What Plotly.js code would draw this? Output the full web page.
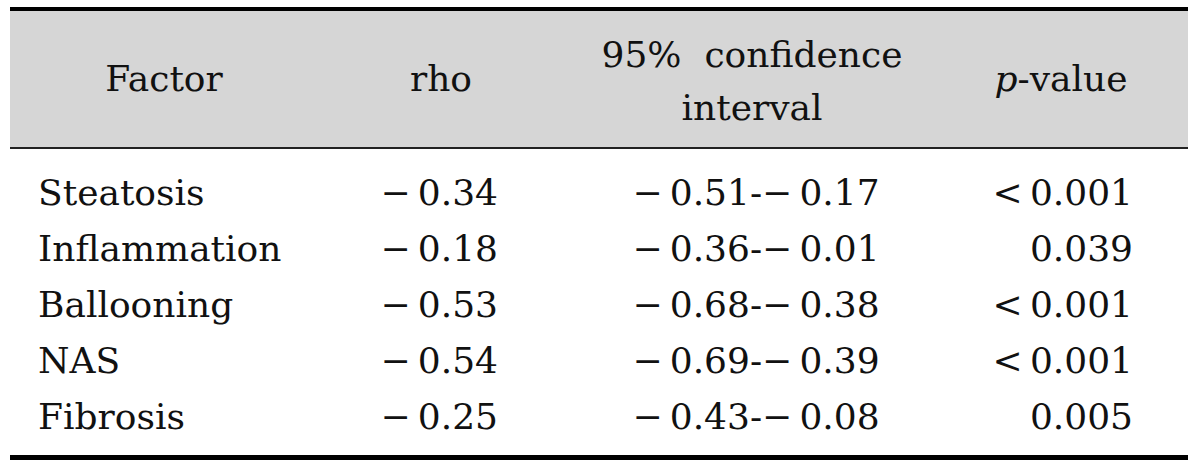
<!DOCTYPE html>
<html>
<head>
<meta charset="utf-8">
<script src="https://cdn.plot.ly/plotly-3.0.1.min.js"></script>
<style>
  html, body { margin: 0; padding: 0; background: #fff; }
  #tbl { width: 1200px; height: 468px; }
</style>
</head>
<body>
<div id="tbl"></div>
<script>
// table contents
var factors = ['Steatosis', 'Inflammation', 'Ballooning', 'NAS', 'Fibrosis'];
var rho = [-0.34, -0.18, -0.53, -0.54, -0.25];
var ciLow = [-0.51, -0.36, -0.68, -0.69, -0.43];
var ciHigh = [-0.17, -0.01, -0.38, -0.39, -0.08];
var pValues = ['<0.001', '0.039', '<0.001', '<0.001', '0.005'];

var headers = ['Factor', 'rho', '95%  confidence', 'interval', '<i>p</i>-value'];

// layout of the table (pixels)
var rowY0 = 196, rowStep = 56;
var font = { family: 'DejaVu Serif', size: 36, color: '#111' };

function fmt(v) {
    return (v < 0 ? '\u2212\u2009' : '') + Math.abs(v).toFixed(2);
}
function esc(s) {
    return s.replace(/</g, '&lt;\u2009');
}

var rowsY = factors.map(function (f, i) { return rowY0 + i * rowStep; });

function col(x, text, pos) {
    return {
        type: 'scatter',
        mode: 'text',
        x: text.map(function () { return x; }),
        y: rowsY.slice(0, text.length),
        text: text,
        textposition: pos,
        textfont: font,
        hoverinfo: 'skip',
        showlegend: false
    };
}

var headerTrace = {
    type: 'scatter',
    mode: 'text',
    x: [164, 441, 752, 752, 1061],
    y: [82, 82, 58, 111, 82],
    text: headers,
    textposition: 'middle center',
    textfont: font,
    hoverinfo: 'skip',
    showlegend: false
};

var data = [
    headerTrace,
    col(38, factors, 'middle right'),
    col(498, rho.map(fmt), 'middle left'),
    col(756, ciLow.map(function (v, i) { return fmt(v) + '-' + fmt(ciHigh[i]); }), 'middle center'),
    col(1133, pValues.map(esc), 'middle left')
];

var layout = {
    width: 1200,
    height: 468,
    margin: { l: 0, r: 0, t: 0, b: 0 },
    paper_bgcolor: '#fff',
    plot_bgcolor: '#fff',
    xaxis: { range: [0, 1200], visible: false, fixedrange: true },
    yaxis: { range: [468, 0], visible: false, fixedrange: true },
    shapes: [
        { type: 'rect', xref: 'x', yref: 'y', x0: 10, x1: 1188, y0: 9, y1: 148,
          fillcolor: '#d6d6d6', line: { width: 0 }, layer: 'below' },
        { type: 'line', xref: 'x', yref: 'y', x0: 10, x1: 1188, y0: 9, y1: 9,
          line: { color: '#000', width: 4 } },
        { type: 'line', xref: 'x', yref: 'y', x0: 10, x1: 1188, y0: 148, y1: 148,
          line: { color: '#222', width: 2 } },
        { type: 'line', xref: 'x', yref: 'y', x0: 10, x1: 1188, y0: 457.5, y1: 457.5,
          line: { color: '#000', width: 5 } }
    ]
};

Plotly.newPlot('tbl', data, layout, { displayModeBar: false, staticPlot: true });
</script>
</body>
</html>
